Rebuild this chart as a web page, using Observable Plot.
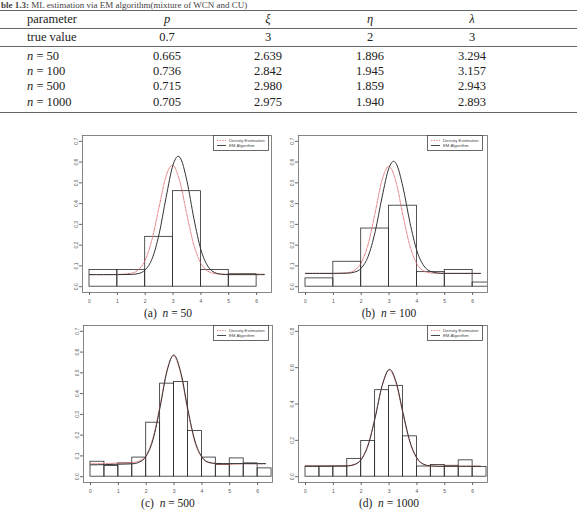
<!DOCTYPE html>
<html>
<head>
<meta charset="utf-8">
<script src="https://cdn.jsdelivr.net/npm/d3@7"></script>
<script src="https://cdn.jsdelivr.net/npm/@observablehq/plot@0.6"></script>
<style>
  body { margin: 0; background: #fff; }
  #page { position: relative; width: 579px; height: 511px; overflow: hidden; font-family: "Liberation Serif", serif; color: #222; }
  .abs { position: absolute; white-space: nowrap; }
  .rule { position: absolute; left: 0; width: 577px; background: #666; }
  .cell { position: absolute; white-space: nowrap; font-size: 12.5px; line-height: 14px; transform: translateY(-50%); }
  .ctr { transform: translate(-50%, -50%); }
</style>
</head>
<body>
<div id="page"></div>
<script>
// ---- Table: ML estimation via EM ----
const captionLead = "ble 1.3:";
const captionText = "ML estimation via EM algorithm(mixture of WCN and CU)";
const paramNames = ["p", "ξ", "η", "λ"];
const trueValues = ["0.7", "3", "2", "3"];
const sampleSizes = [50, 100, 500, 1000];
const estP = [0.665, 0.736, 0.715, 0.705];
const estXi = [2.639, 2.842, 2.980, 2.975];
const estEta = [1.896, 1.945, 1.859, 1.940];
const estLambda = [3.294, 3.157, 2.943, 2.893];

// ---- Histograms (density scale) ----
const breaksA = [0, 1, 2, 3, 4, 5, 6];
const densA = [0.08, 0.08, 0.24, 0.46, 0.08, 0.06];
const breaksB = [0, 1, 2, 3, 4, 5, 6, 7];
const densB = [0.04, 0.12, 0.28, 0.39, 0.07, 0.08, 0.02];
const breaksC = [0, 0.5, 1, 1.5, 2, 2.5, 3, 3.5, 4, 4.5, 5, 5.5, 6, 6.5];
const densC = [0.072, 0.052, 0.064, 0.092, 0.26, 0.448, 0.456, 0.22, 0.092, 0.056, 0.088, 0.064, 0.04];
const breaksD = [0, 0.5, 1, 1.5, 2, 2.5, 3, 3.5, 4, 4.5, 5, 5.5, 6, 6.5];
const densD = [0.056, 0.056, 0.056, 0.098, 0.196, 0.476, 0.5, 0.222, 0.056, 0.064, 0.06, 0.09, 0.054];

// ---- Fitted curves: EM algorithm (solid) and kernel density estimate (dotted) ----
const emAx = [0, 0.5, 1, 1.5, 1.75, 2, 2.25, 2.5, 2.75, 3, 3.18, 3.25, 3.5, 3.75, 4, 4.25, 4.5, 4.75, 5, 5.5, 6, 6.28];
const emAy = [0.058, 0.058, 0.058, 0.059, 0.063, 0.081, 0.135, 0.254, 0.43, 0.587, 0.628, 0.622, 0.508, 0.327, 0.178, 0.098, 0.068, 0.06, 0.058, 0.058, 0.058, 0.058];
const kdeAx = [0, 0.5, 1, 1.5, 1.75, 2, 2.25, 2.5, 2.75, 2.97, 3, 3.25, 3.5, 3.75, 4, 4.25, 4.5, 4.75, 5, 5.5, 6, 6.28];
const kdeAy = [0.058, 0.058, 0.059, 0.065, 0.081, 0.128, 0.23, 0.385, 0.533, 0.585, 0.584, 0.503, 0.345, 0.2, 0.113, 0.075, 0.063, 0.06, 0.06, 0.06, 0.06, 0.06];

const emBx = [0, 0.5, 1, 1.5, 1.75, 2, 2.25, 2.5, 2.75, 3, 3.16, 3.25, 3.5, 3.75, 4, 4.25, 4.5, 4.75, 5, 5.5, 6, 6.28];
const emBy = [0.064, 0.064, 0.064, 0.065, 0.07, 0.089, 0.146, 0.264, 0.432, 0.573, 0.604, 0.594, 0.479, 0.309, 0.173, 0.1, 0.073, 0.066, 0.064, 0.064, 0.064, 0.064];
const kdeBx = [0, 0.5, 1, 1.5, 1.75, 2, 2.25, 2.5, 2.75, 2.99, 3.25, 3.5, 3.75, 4, 4.25, 4.5, 4.75, 5, 5.5, 6, 6.28];
const kdeBy = [0.064, 0.064, 0.064, 0.067, 0.078, 0.115, 0.205, 0.356, 0.514, 0.58, 0.504, 0.343, 0.196, 0.11, 0.076, 0.066, 0.064, 0.064, 0.064, 0.064, 0.064];

const emCx = [0, 0.5, 1, 1.5, 1.75, 2, 2.25, 2.5, 2.75, 2.99, 3.25, 3.5, 3.75, 4, 4.25, 4.5, 4.75, 5, 5.5, 6, 6.28];
const emCy = [0.057, 0.058, 0.06, 0.062, 0.07, 0.099, 0.181, 0.336, 0.51, 0.586, 0.498, 0.321, 0.172, 0.095, 0.069, 0.064, 0.063, 0.063, 0.063, 0.063, 0.063];
const kdeCx = [0, 0.5, 1, 1.5, 1.75, 2, 2.25, 2.5, 2.75, 2.97, 3.25, 3.5, 3.75, 4, 4.25, 4.5, 4.75, 5, 5.5, 6, 6.28];
const kdeCy = [0.062, 0.063, 0.066, 0.068, 0.076, 0.104, 0.19, 0.345, 0.515, 0.582, 0.49, 0.312, 0.165, 0.092, 0.068, 0.062, 0.06, 0.06, 0.062, 0.062, 0.062];

const emDx = [0, 0.5, 1, 1.5, 1.75, 2, 2.25, 2.5, 2.75, 3.02, 3.25, 3.5, 3.75, 4, 4.25, 4.5, 4.75, 5, 5.5, 6, 6.28];
const emDy = [0.057, 0.057, 0.058, 0.059, 0.066, 0.094, 0.174, 0.324, 0.5, 0.591, 0.523, 0.353, 0.193, 0.103, 0.068, 0.059, 0.057, 0.057, 0.057, 0.057, 0.057];
const kdeDx = [0, 0.5, 1, 1.5, 1.75, 2, 2.25, 2.5, 2.75, 3, 3.25, 3.5, 3.75, 4, 4.25, 4.5, 4.75, 5, 5.5, 6, 6.28];
const kdeDy = [0.06, 0.06, 0.06, 0.061, 0.068, 0.097, 0.178, 0.328, 0.5, 0.585, 0.515, 0.345, 0.188, 0.1, 0.067, 0.059, 0.058, 0.058, 0.058, 0.058, 0.058];

// ---- Axes ----
const xLimits = [0, 6.2832];
const xTicks = [0, 1, 2, 3, 4, 5, 6];
const yLimits7 = [0, 0.7];
const yTicks7 = [0, 0.1, 0.2, 0.3, 0.4, 0.5, 0.6, 0.7];
const yLimits8 = [0, 0.8];
const yTicks8 = [0, 0.2, 0.4, 0.6, 0.8];
const legendLabels = ["Density Estimation", "EM Algorithm"];
const panelTags = ["(a)", "(b)", "(c)", "(d)"];

const kdeColor = "#de6a6a";
const emColor = "#333";

const page = document.getElementById("page");
const fmt3 = d3.format(".3f");

function addDiv(cls, html, style) {
  const el = document.createElement("div");
  el.className = cls;
  el.innerHTML = html;
  Object.assign(el.style, style);
  page.appendChild(el);
  return el;
}

// table caption
addDiv("abs", `<b>${captionLead}</b> ${captionText}`, {left: "1px", top: "0px", fontSize: "9px", lineHeight: "10px", color: "#444"});

// rules
[[10, 1.4], [28, 0.8], [46, 0.8], [112, 1.4]].forEach(([y, t]) =>
  addDiv("rule", "", {top: y + "px", height: t + "px"}));

const colX = [167, 268, 370, 472];
const rowY = [19, 37, 56, 71, 86, 102];
const labelX = 27;

addDiv("cell", "parameter", {left: labelX + "px", top: rowY[0] + "px"});
paramNames.forEach((p, i) => addDiv("cell ctr", `<i>${p}</i>`, {left: colX[i] + "px", top: rowY[0] + "px"}));
addDiv("cell", "true value", {left: labelX + "px", top: rowY[1] + "px"});
trueValues.forEach((v, i) => addDiv("cell ctr", v, {left: colX[i] + "px", top: rowY[1] + "px"}));
sampleSizes.forEach((n, r) => {
  const y = rowY[r + 2] + "px";
  addDiv("cell", `<i>n</i> = ${n}`, {left: labelX + "px", top: y});
  [estP, estXi, estEta, estLambda].forEach((col, i) =>
    addDiv("cell ctr", fmt3(col[r]), {left: colX[i] + "px", top: y}));
});

// ---- histogram panels ----
function pad(lim) {
  const r = lim[1] - lim[0];
  return [lim[0] - 0.04 * r, lim[1] + 0.04 * r];
}

function panel({breaks, dens, emx, emy, kx, ky, ylim, yticks, box, legendBox, tag, n, capX, capY}) {
  const bars = dens.map((d, i) => ({x1: breaks[i], x2: breaks[i + 1], y: d}));
  const em = emx.map((x, i) => ({x, y: emy[i]}));
  const kde = kx.map((x, i) => ({x, y: ky[i]}));
  const mL = 20, mT = 2, mR = 2, mB = 14;
  const fw = box.right - box.left, fh = box.bottom - box.top;
  const svg = Plot.plot({
    width: fw + mL + mR,
    height: fh + mT + mB,
    marginLeft: mL, marginTop: mT, marginRight: mR, marginBottom: mB,
    x: {domain: pad(xLimits), label: null},
    y: {domain: pad(ylim), label: null},
    style: {fontFamily: "'Liberation Sans', sans-serif", fontSize: "5px", color: "#555", background: "transparent"},
    marks: [
      Plot.rect(bars, {x1: "x1", x2: "x2", y1: 0, y2: "y", fill: "none", stroke: "#2a2a2a", strokeWidth: 0.8, clip: true}),
      Plot.line(kde, {x: "x", y: "y", curve: "monotone-x", stroke: kdeColor, strokeWidth: 0.9, strokeDasharray: "1.4,1.2"}),
      Plot.line(em, {x: "x", y: "y", curve: "monotone-x", stroke: emColor, strokeWidth: 1}),
      Plot.frame({stroke: "#666", strokeWidth: 0.8}),
      Plot.axisX(xTicks, {tickSize: 3, tickPadding: 4, tickFormat: d => String(d), label: null, stroke: "#666"}),
      Plot.axisY(yticks, {tickSize: 3, tickPadding: 2, tickRotate: -90, tickFormat: d3.format(".1f"), label: null, stroke: "#666"})
    ]
  });
  svg.style.position = "absolute";
  svg.style.left = (box.left - mL) + "px";
  svg.style.top = (box.top - mT) + "px";
  svg.style.overflow = "visible";
  page.appendChild(svg);

  // legend box in the top-right corner
  const ns = "http://www.w3.org/2000/svg";
  const lw = legendBox.w, lh = legendBox.h;
  const lg = document.createElementNS(ns, "svg");
  lg.setAttribute("width", lw);
  lg.setAttribute("height", lh);
  Object.assign(lg.style, {position: "absolute", left: legendBox.x + "px", top: legendBox.y + "px"});
  lg.innerHTML = `
    <rect x="0.5" y="0.5" width="${lw - 1}" height="${lh - 1}" fill="#fff" stroke="#444" stroke-width="0.8"/>
    <line x1="4" x2="13" y1="5.5" y2="5.5" stroke="${kdeColor}" stroke-width="0.8" stroke-dasharray="1.4,1.2"/>
    <line x1="4" x2="13" y1="10.5" y2="10.5" stroke="${emColor}" stroke-width="0.9"/>
    <text x="16" y="5.5" dy="0.35em" font-family="Liberation Sans, sans-serif" font-size="4.3" fill="#444">${legendLabels[0]}</text>
    <text x="16" y="10.5" dy="0.35em" font-family="Liberation Sans, sans-serif" font-size="4.3" fill="#444">${legendLabels[1]}</text>`;
  page.appendChild(lg);

  // sub-caption
  addDiv("abs", `${tag}&nbsp; <i>n</i> = ${n}`, {
    left: capX + "px", top: capY + "px", fontSize: "11.5px", lineHeight: "12px",
    transform: "translate(-50%, -50%)"
  });
}

panel({breaks: breaksA, dens: densA, emx: emAx, emy: emAy, kx: kdeAx, ky: kdeAy,
  ylim: yLimits7, yticks: yTicks7, box: {left: 82, right: 271, top: 135, bottom: 292},
  legendBox: {x: 213, y: 135, w: 56, h: 16}, tag: panelTags[0], n: sampleSizes[0], capX: 168, capY: 313});
panel({breaks: breaksB, dens: densB, emx: emBx, emy: emBy, kx: kdeBx, ky: kdeBy,
  ylim: yLimits7, yticks: yTicks7, box: {left: 298, right: 487, top: 135, bottom: 292},
  legendBox: {x: 427, y: 135, w: 56, h: 16}, tag: panelTags[1], n: sampleSizes[1], capX: 389, capY: 313});
panel({breaks: breaksC, dens: densC, emx: emCx, emy: emCy, kx: kdeCx, ky: kdeCy,
  ylim: yLimits7, yticks: yTicks7, box: {left: 83, right: 272, top: 325, bottom: 482},
  legendBox: {x: 213, y: 325, w: 56, h: 16}, tag: panelTags[2], n: sampleSizes[2], capX: 168, capY: 503});
panel({breaks: breaksD, dens: densD, emx: emDx, emy: emDy, kx: kdeDx, ky: kdeDy,
  ylim: yLimits8, yticks: yTicks8, box: {left: 298, right: 487, top: 325, bottom: 482},
  legendBox: {x: 427, y: 325, w: 56, h: 16}, tag: panelTags[3], n: sampleSizes[3], capX: 389, capY: 503});
</script>
</body>
</html>
